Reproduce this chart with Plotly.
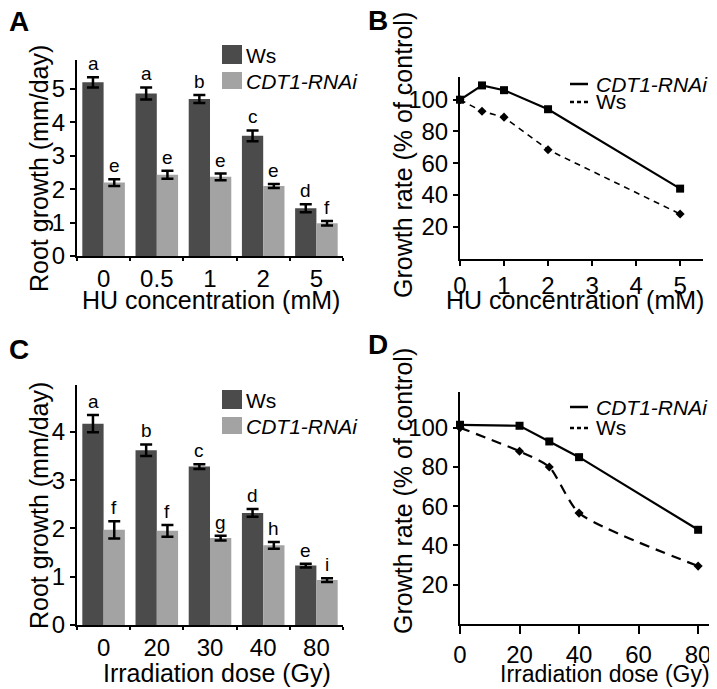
import plotly.graph_objects as go

# ---- data ----
hu_labels = ["0", "0.5", "1", "2", "5"]
hu_conc = [0, 0.5, 1, 2, 5]
ws_hu = [5.2, 4.87, 4.7, 3.6, 1.43]
ws_hu_err = [0.15, 0.18, 0.12, 0.16, 0.12]
rnai_hu = [2.2, 2.43, 2.37, 2.1, 0.98]
rnai_hu_err = [0.1, 0.12, 0.1, 0.06, 0.07]
ws_hu_letters = ["a", "a", "b", "c", "d"]
rnai_hu_letters = ["e", "e", "e", "e", "f"]

rnai_hu_rate = [100, 109, 106, 94, 44]
ws_hu_rate = [100, 92.7, 89, 68.5, 28]

dose_labels = ["0", "20", "30", "40", "80"]
dose = [0, 20, 30, 40, 80]
ws_ir = [4.17, 3.62, 3.28, 2.32, 1.23]
ws_ir_err = [0.18, 0.12, 0.05, 0.08, 0.04]
rnai_ir = [1.97, 1.95, 1.8, 1.65, 0.93]
rnai_ir_err = [0.18, 0.12, 0.05, 0.07, 0.04]
ws_ir_letters = ["a", "b", "c", "d", "e"]
rnai_ir_letters = ["f", "f", "g", "h", "i"]

rnai_ir_rate = [101.5, 101, 93, 85, 48]
ws_ir_rate = [100, 88, 80, 56.5, 29.5]

W, H = 717, 689
OFF = 8  # the page body margin shifts the figure by this much
FONT = "Arial, Liberation Sans, sans-serif"
DARK = "#4b4b4b"
LIGHT = "#a3a3a3"


def px_x(p):
    return (p - OFF) / W


def px_y(p):
    return 1 - (p - OFF) / H


fig = go.Figure()

# bar panels
for xa, ya, labels, ws, ws_e, rn, rn_e, wl, rl in [
    ("x", "y", hu_labels, ws_hu, ws_hu_err, rnai_hu, rnai_hu_err, ws_hu_letters, rnai_hu_letters),
    ("x3", "y3", dose_labels, ws_ir, ws_ir_err, rnai_ir, rnai_ir_err, ws_ir_letters, rnai_ir_letters),
]:
    fig.add_bar(
        x=labels, y=ws, name="Ws", marker_color=DARK, marker_line_width=0,
        error_y=dict(type="data", array=ws_e, color="black", thickness=2.5, width=6),
        xaxis=xa, yaxis=ya, showlegend=False, offsetgroup="ws",
    )
    fig.add_bar(
        x=labels, y=rn, name="CDT1-RNAi", marker_color=LIGHT, marker_line_width=0,
        error_y=dict(type="data", array=rn_e, color="black", thickness=2.5, width=6),
        xaxis=xa, yaxis=ya, showlegend=False, offsetgroup="rnai",
    )
    # significance letters; x given as category index
    for i, (v, e, t) in enumerate(zip(ws, ws_e, wl)):
        fig.add_annotation(
            x=i, y=v + e, xref=xa, yref=ya, text=t, showarrow=False,
            xshift=-10.6, xanchor="center", yanchor="bottom", yshift=1,
            font=dict(size=19, family=FONT, color="black"),
        )
    for i, (v, e, t) in enumerate(zip(rn, rn_e, rl)):
        fig.add_annotation(
            x=i, y=v + e, xref=xa, yref=ya, text=t, showarrow=False,
            xshift=10.6, xanchor="center", yanchor="bottom", yshift=1,
            font=dict(size=19, family=FONT, color="black"),
        )

# line panels
fig.add_scatter(
    x=hu_conc, y=rnai_hu_rate, mode="lines+markers", xaxis="x2", yaxis="y2",
    line=dict(color="black", width=2.2), marker=dict(symbol="square", size=8, color="black"),
    cliponaxis=False, showlegend=False,
)
fig.add_scatter(
    x=hu_conc, y=ws_hu_rate, mode="lines+markers", xaxis="x2", yaxis="y2",
    line=dict(color="black", width=1.6, dash="6px,5px"),
    marker=dict(symbol="diamond", size=7, color="black"),
    cliponaxis=False, showlegend=False,
)
fig.add_scatter(
    x=dose, y=rnai_ir_rate, mode="lines+markers", xaxis="x4", yaxis="y4",
    line=dict(color="black", width=2.2), marker=dict(symbol="square", size=8, color="black"),
    cliponaxis=False, showlegend=False,
)
fig.add_scatter(
    x=dose, y=ws_ir_rate, mode="lines+markers", xaxis="x4", yaxis="y4",
    line=dict(color="black", width=2.2, dash="10px,7px", shape="spline", smoothing=0.6),
    marker=dict(symbol="diamond", size=7, color="black"),
    cliponaxis=False, showlegend=False,
)

tickfont = dict(size=24, family=FONT, color="black")
ax = dict(showline=True, linewidth=2, linecolor="black", showgrid=False, zeroline=False,
          ticks="outside", tickwidth=2, tickcolor="black", tickfont=tickfont, automargin=False)

fig.update_layout(
    width=W, height=H, margin=dict(l=0, r=0, t=0, b=0, autoexpand=False),
    plot_bgcolor="white", paper_bgcolor="white",
    barmode="group", bargap=0.2, bargroupgap=0,
    font=dict(family=FONT, color="black"),
    xaxis=dict(ax, domain=[px_x(77), px_x(343)], anchor="y", tickson="boundaries", ticklen=3, range=[-0.5, 4.5]),
    yaxis=dict(ax, domain=[px_y(256), px_y(60)], anchor="x", range=[0, 5.87], tickvals=[0, 1, 2, 3, 4, 5], ticklen=5),
    xaxis2=dict(ax, domain=[px_x(460), px_x(703)], anchor="y2", range=[0, 5.52], tickvals=[0, 1, 2, 3, 4, 5], ticklen=5),
    yaxis2=dict(ax, domain=[px_y(258.5), px_y(77)], anchor="x2", range=[0, 114.3], tickvals=[20, 40, 60, 80, 100], ticklen=5),
    xaxis3=dict(ax, domain=[px_x(77), px_x(343)], anchor="y3", tickson="boundaries", ticklen=3, range=[-0.5, 4.5]),
    yaxis3=dict(ax, domain=[px_y(625), px_y(385)], anchor="x3", range=[0, 4.97], tickvals=[0, 1, 2, 3, 4], ticklen=5),
    xaxis4=dict(ax, domain=[px_x(460), px_x(713)], anchor="y4", range=[0, 85], tickvals=[0, 20, 40, 60, 80], ticklen=8),
    yaxis4=dict(ax, domain=[px_y(624), px_y(392)], anchor="x4", range=[0, 118.2], tickvals=[20, 40, 60, 80, 100], ticklen=5),
)


def text(xp, yp, s, size, xanchor="center", **kw):
    fig.add_annotation(
        x=px_x(xp), y=px_y(yp), xref="paper", yref="paper", text=s, showarrow=False,
        xanchor=xanchor, yanchor="middle",
        font=dict(size=size, family=FONT, color="black"), **kw,
    )


# panel letters
for xp, yp, s in [(19, 22, "A"), (378, 21, "B"), (19, 349, "C"), (378, 344, "D")]:
    text(xp, yp, "<b>%s</b>" % s, 28)

# axis titles
text(39, 169, "Root growth (mm/day)", 25, textangle=-90)
text(39, 506, "Root growth (mm/day)", 25, textangle=-90)
text(403, 155, "Growth rate (% of control)", 25, textangle=-90)
text(403, 491, "Growth rate (% of control)", 25, textangle=-90)
text(211, 300, "HU concentration (mM)", 25)
text(575, 300, "HU concentration (mM)", 25)
text(217, 673, "Irradiation dose (Gy)", 25)
text(605, 674, "Irradiation dose (Gy)", 23)

# legends for bar panels
for top in (45, 390):
    fig.add_shape(type="rect", xref="paper", yref="paper", x0=px_x(222), x1=px_x(242),
                  y0=px_y(top), y1=px_y(top + 19), fillcolor=DARK, line_width=0)
    fig.add_shape(type="rect", xref="paper", yref="paper", x0=px_x(222), x1=px_x(242),
                  y0=px_y(top + 27), y1=px_y(top + 44), fillcolor=LIGHT, line_width=0)
    text(244, top + 10, "Ws", 21, xanchor="left")
    text(244, top + 36, "<i>CDT1-RNAi</i>", 21, xanchor="left")

# legends for line panels
for y1, y2 in ((84, 102), (407, 428)):
    fig.add_shape(type="line", xref="paper", yref="paper", x0=px_x(570), x1=px_x(588),
                  y0=px_y(y1), y1=px_y(y1), line=dict(color="black", width=2.5))
    fig.add_shape(type="line", xref="paper", yref="paper", x0=px_x(570), x1=px_x(588),
                  y0=px_y(y2), y1=px_y(y2), line=dict(color="black", width=2.5, dash="4px,3px"))
    text(594, y1, "<i>CDT1-RNAi</i>", 21, xanchor="left")
    text(594, y2, "Ws", 21, xanchor="left")

fig.write_html("out.html")
